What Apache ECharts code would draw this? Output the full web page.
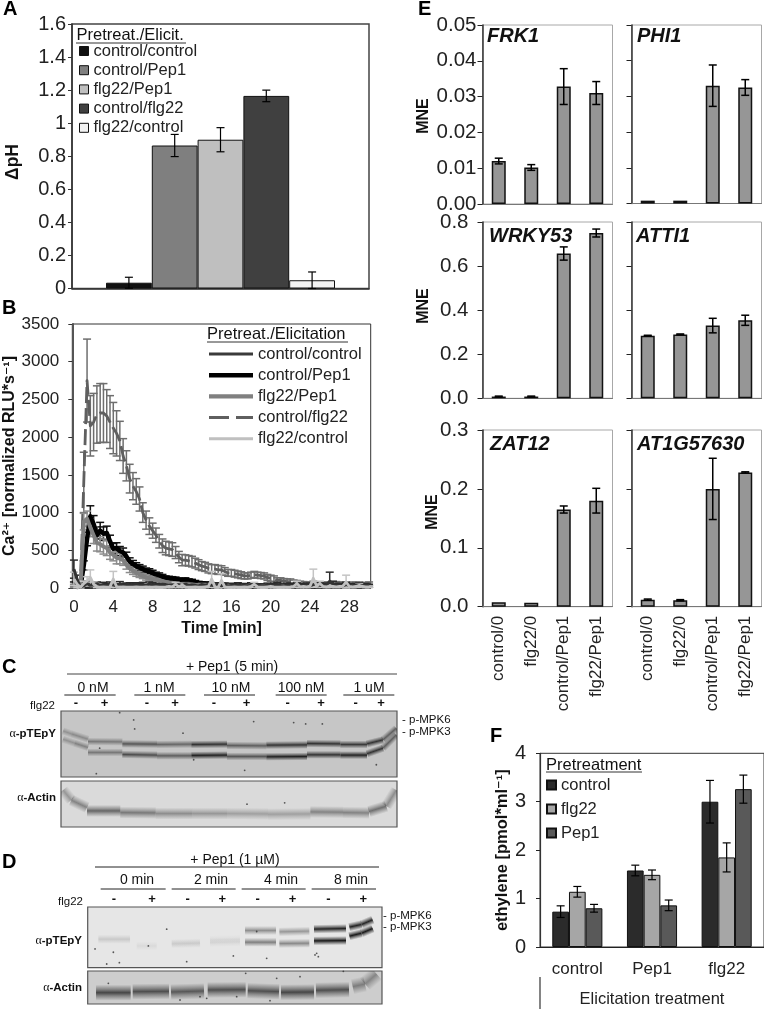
<!DOCTYPE html>
<html>
<head>
<meta charset="utf-8">
<style>html,body{margin:0;padding:0;background:#fff}#c{width:764px;height:1009px}</style>
<script src="https://cdn.jsdelivr.net/npm/echarts@6/dist/echarts.min.js"></script>
</head>
<body>
<div id="c"></div>
<script>
// ---------- Panel A ----------
const aNames = ['control/control','control/Pep1','flg22/Pep1','control/flg22','flg22/control'];
const aValues = [0.035,0.865,0.9,1.165,0.05];
const aErrors = [0.033,0.067,0.073,0.035,0.05];
const aColors = ['#111111','#7f7f7f','#bfbfbf','#404040','#f2f2f2'];

// ---------- Panel B (readings every 20 s) ----------
const ctrlCtrl = [
 250,110,10,30,60,35,40,55,30,45,
 35,50,40,30,55,35,45,40,30,50,
 35,45,30,55,40,35,30,50,45,35,
 40,30,45,35,50,30,40,35,25,45,
 30,40,35,30,45,30,40,25,35,30,
 45,30,35,25,40,30,35,30,25,40,
 30,35,45,30,25,40,35,30,45,30,
 35,40,30,45,55,35,30,40,90,50,
 35,40,30,45,35,30,40,35,30,35,30];
const ctrlCtrlErr = [
 120,60,10,20,30,25,30,25,20,30,
 25,30,20,25,30,25,20,30,25,20,
 25,30,20,25,30,20,25,30,20,25,
 20,30,25,20,25,30,20,25,20,25,
 20,25,20,30,25,20,25,20,25,20,
 25,20,25,20,30,25,20,25,20,25,
 20,25,30,20,25,20,30,25,20,25,
 20,25,30,20,25,30,20,25,120,40,
 25,20,25,30,20,25,20,30,20,25,20];
const ctrlPep1 = [
 50,30,20,300,650,950,850,700,760,720,
 730,620,520,530,490,470,420,350,320,290,
 270,250,230,220,200,180,170,150,135,130,
 125,120,110,100,110,100,95,80,70,65,
 60,60,55,50,50,45,45,40,40,40,
 35,35,35,30,30,35,30,30,30,25,
 30,25,25,30,25,25,20,25,25,20,
 25,20,25,20,20,25,20,20,25,20,
 20,25,20,20,25,20,20,20,25,20,20];
const ctrlPep1Err = [
 30,20,15,60,90,140,110,110,110,90,
 90,80,70,70,60,60,55,50,45,45,
 40,40,35,35,35,30,30,30,25,25,
 25,25,25,20,25,20,20,20,15,15,
 15,15,15,15,15,10,10,10,10,10,
 10,10,10,10,10,10,10,10,10,10,
 10,10,10,10,10,10,10,10,10,10,
 10,10,10,10,10,10,10,10,10,10,
 10,10,10,10,10,10,10,10,10,10,10];
const flgPep1 = [
 30,10,20,880,920,800,700,600,580,550,
 530,470,440,400,390,370,310,260,230,200,
 180,160,140,130,120,105,100,90,80,70,
 65,60,55,50,45,50,45,40,40,35,
 35,30,35,30,30,30,25,30,25,25,
 30,25,25,20,25,25,20,25,20,25,
 20,20,25,20,25,20,20,25,20,20,
 25,20,20,25,20,20,25,20,20,20,
 25,20,20,20,25,20,20,20,25,20,20];
const flgPep1Err = [
 20,10,15,110,100,120,110,110,100,100,
 100,90,80,80,70,70,60,55,50,45,
 40,35,35,30,30,25,25,25,20,20,
 20,15,15,15,15,15,15,10,10,10,
 10,10,10,10,10,10,10,10,10,10,
 10,10,10,10,10,10,10,10,10,10,
 10,10,10,10,10,10,10,10,10,10,
 10,10,10,10,10,10,10,10,10,10,
 10,10,10,10,10,10,10,10,10,10,10];
const ctrlFlg22 = [
 20,10,50,1400,2750,2150,2200,2300,2320,2320,
 2280,2200,2120,2050,1950,1750,1620,1450,1350,1280,
 1180,1000,900,820,760,700,620,560,530,520,
 510,470,410,370,370,360,350,330,310,290,
 280,260,250,250,240,240,220,200,200,190,
 180,170,160,160,170,180,170,165,160,140,
 130,120,100,100,90,85,85,75,70,60,
 55,50,50,60,50,45,45,50,40,50,
 55,45,50,45,40,50,45,50,40,45,50];
const ctrlFlg22Err = [
 15,10,30,400,550,400,380,380,390,390,
 350,350,340,300,260,230,200,190,180,170,
 160,130,120,110,100,95,90,90,90,90,
 90,80,75,75,70,70,70,65,65,60,
 60,60,60,60,60,55,50,45,45,45,
 45,45,40,40,40,40,40,40,40,40,
 40,40,35,35,35,35,35,30,30,30,
 30,30,30,30,30,30,30,30,30,30,
 30,30,30,30,30,30,30,30,30,30,30];
const flgCtrl = [
 120,50,10,60,90,140,50,20,10,15,
 10,15,120,20,10,15,10,12,10,15,
 10,12,15,10,12,15,10,12,15,20,
 15,50,15,40,15,12,10,15,12,10,
 15,20,120,15,10,100,15,12,10,15,
 12,10,15,12,20,50,15,12,10,15,
 20,15,12,10,15,12,15,20,60,15,
 20,15,25,130,30,60,20,15,25,20,
 15,20,25,80,20,15,20,35,20,15,15];
const flgCtrlErr = [
 90,40,10,30,60,100,30,15,10,10,
 10,10,100,15,10,10,10,10,10,10,
 10,10,10,10,10,10,10,10,10,10,
 10,25,10,20,10,10,10,10,10,10,
 10,10,100,10,10,90,10,10,10,10,
 10,10,10,10,10,25,10,10,10,10,
 10,10,10,10,10,10,10,10,30,10,
 10,10,15,120,15,30,10,10,15,10,
 10,10,15,90,10,10,10,20,10,10,10];

// ---------- Panel E ----------
const eCategories = ['control/0','flg22/0','control/Pep1','flg22/Pep1'];
const frk1 = [0.012,0.0102,0.0328,0.031];
const frk1Err = [0.0008,0.0008,0.005,0.0032];
const phi1 = [0.0008,0.0008,0.033,0.0325];
const phi1Err = [0,0,0.0058,0.0022];
const wrky53 = [0.008,0.008,0.657,0.75];
const wrky53Err = [0.002,0.002,0.03,0.018];
const atti1 = [0.284,0.29,0.33,0.354];
const atti1Err = [0.002,0.002,0.033,0.023];
const zat12 = [0.0075,0.0065,0.165,0.18];
const zat12Err = [0,0,0.006,0.021];
const at1g = [0.012,0.011,0.2,0.228];
const at1gErr = [0.001,0.001,0.052,0.001];

// ---------- Panel F ----------
const fCategories = ['control','Pep1','flg22'];
const fControl = [0.73,1.58,3.0];
const fControlErr = [0.12,0.11,0.44];
const fFlg22 = [1.14,1.49,1.85];
const fFlg22Err = [0.11,0.1,0.3];
const fPep1 = [0.8,0.86,3.26];
const fPep1Err = [0.08,0.11,0.29];

// ---------- Blots: [from, to, migrationFrom, migrationTo, intensity] in gel units ----------
const cPhosUpper = [[190,215,243,252,.3],[215,265,252,268,.35],[265,368,275,276,.45],[368,472,282,283,.65],[472,575,284,283,.55],
 [575,682,284,283,.85],[682,800,287,288,.6],[800,922,286,285,.85],[922,1022,281,282,.85],[1022,1102,284,284,.8],[1102,1150,282,270,.85],[1150,1190,270,235,.6]];
const cPhosLower = [[190,225,268,280,.3],[225,265,280,293,.4],[265,368,308,308,.45],[368,472,314,316,.7],[472,575,318,318,.6],
 [575,682,317,316,.95],[682,800,320,320,.65],[800,922,321,320,.95],[922,1022,315,315,.85],[1022,1102,316,316,.95],[1102,1150,312,295,.85],[1150,1190,295,255,.6]];
const cActin = [[190,215,420,450,.35],[215,262,450,472,.45],[262,362,482,482,.6],[362,468,487,488,.5],[468,578,490,490,.4],
 [578,682,490,490,.35],[682,805,490,491,.3],[805,932,492,491,.3],[932,1030,485,486,.45],[1030,1108,487,488,.45],[1108,1160,484,468,.55],[1160,1190,468,420,.4]];
const dPhosUpper = [[515,600,310,308,.04],[630,720,300,298,.05],[735,828,272,272,.42],[838,928,276,274,.38],[942,1038,268,266,.95],[1048,1085,262,254,.95],[1085,1118,254,240,.95]];
const dPhosLower = [[295,390,298,298,.14],[410,470,318,318,.06],[515,600,312,310,.1],[630,720,308,306,.07],[735,828,307,307,.5],[838,928,311,310,.45],[942,1038,303,302,1],[1048,1085,289,280,1],[1085,1118,280,266,1]];
const dActin = [[288,392,458,458,.75],[398,507,455,454,.7],[513,612,456,453,.65],[623,737,450,449,.7],[743,837,452,455,.7],[843,942,457,456,.75],[948,1047,451,449,.7],[1058,1095,440,432,.45],[1095,1130,432,402,.4]];
const cPhosSpecks = [[360,188],[402,210],[405,237],[550,250],[290,372],[300,295],[762,215],[882,218],[918,222],[968,222],[582,330],[735,362],[1130,345]];
const cActinSpecks = [[742,462],[855,458]];
const dPhosSpecks = [[285,327],[340,337],[320,372],[358,368],[500,268],[800,355],[945,345],[955,350],[950,340],[560,365],[700,348],[770,275],[445,318]];
const dActinSpecks = [[325,430],[737,400],[830,415],[900,410],[540,480],[620,475],[710,470],[810,482],[600,470],[1030,394]];

const FONT = "'Liberation Sans','DejaVu Sans',sans-serif";
const grids = [], xAxes = [], yAxes = [], series = [], graphics = [];

function addGrid(rect, x, y) {
  grids.push(Object.assign({containLabel:false, show:true, backgroundColor:'transparent'}, rect));
  const i = grids.length - 1;
  xAxes.push(Object.assign({gridIndex:i}, x));
  yAxes.push(Object.assign({gridIndex:i}, y));
  return i;
}
function errorSeries(g, values, errs, opt) {
  opt = opt || {};
  const off = opt.offset || 0, cap = opt.cap || 4;
  series.push({
    type:'custom', name:opt.name || ('error bars '+series.length), xAxisIndex:g, yAxisIndex:g, z:opt.z || 5, silent:true,
    data: values.map((v,i)=>[i,v,errs[i]]), encode:{x:0,y:1}, clip:false,
    renderItem(p, api){
      const i=api.value(0), v=api.value(1), e=api.value(2);
      if(!e) return null;
      const top=api.coord([i,v+e]), bot=api.coord([i,Math.max(0,v-e)]);
      const x=top[0]+off;
      const st={stroke:opt.color||'#000',lineWidth:opt.width||1,fill:null};
      return {type:'group',children:[
        {type:'line',shape:{x1:x,y1:top[1],x2:x,y2:bot[1]},style:st},
        {type:'line',shape:{x1:x-cap,y1:top[1],x2:x+cap,y2:top[1]},style:st},
        {type:'line',shape:{x1:x-cap,y1:bot[1],x2:x+cap,y2:bot[1]},style:st}
      ]};
    }
  });
}
function T(text,x,y,size,o){
  graphics.push({type:'text',silent:true,z:50,style:Object.assign({text,x,y,fontFamily:FONT,fontSize:size,fill:'#111',align:'left',verticalAlign:'middle'},o||{})});
}
function R(text,x,y,size){
  graphics.push({type:'text',silent:true,z:50,x,y,rotation:Math.PI/2,
    style:{text,fontFamily:FONT,fontSize:size,fontWeight:'bold',fill:'#111',align:'center',verticalAlign:'middle'}});
}
function L(x1,y1,x2,y2,color,w){
  graphics.push({type:'line',silent:true,z:50,shape:{x1,y1,x2,y2},style:{stroke:color||'#222',lineWidth:w||1}});
}

// ---------- A ----------
const axDark = {lineStyle:{color:'#333',width:1.5}};
const gA = addGrid({left:72,top:24,width:297,height:264.5,borderColor:'#444',borderWidth:1.5},
 {type:'category',data:[''],axisLine:axDark,axisTick:{length:4,lineStyle:{color:'#333'}},axisLabel:{show:false}},
 {type:'value',min:0,max:1.6,interval:0.2,splitLine:{show:false},axisLine:{show:true,lineStyle:{color:'#333',width:1.5}},axisTick:{show:true,length:4,lineStyle:{color:'#333'}},
  axisLabel:{fontFamily:FONT,fontSize:20,color:'#222',margin:6}});
R('ΔpH',13,162,17.5);
aNames.forEach((n,i)=>{
  series.push({type:'bar',name:n,xAxisIndex:gA,yAxisIndex:gA,data:[aValues[i]],barWidth:45.8,barGap:0,
   itemStyle:{color:aColors[i],borderColor:'#111',borderWidth:1}});
  errorSeries(gA,[aValues[i]],[aErrors[i]],{offset:(i-2)*45.8,cap:4,width:1.2,color:'#000'});
});

// ---------- B ----------
const timeCats = ctrlCtrl.map((_,i)=>String(Math.round(i/3)));
const gB = addGrid({left:72.3,top:324,width:298.4,height:264,borderColor:'#333',borderWidth:1},
 {type:'category',data:timeCats,axisLine:{lineStyle:{color:'#333',width:1}},axisTick:{interval:0,length:4,lineStyle:{color:'#222',width:1}},
  axisLabel:{interval:11,fontFamily:FONT,fontSize:17,color:'#222',margin:11},
  name:'Time [min]',nameLocation:'middle',nameGap:33,nameTextStyle:{fontFamily:FONT,fontSize:16,fontWeight:'bold',color:'#111'}},
 {type:'value',min:0,max:3500,interval:500,splitLine:{show:false},axisLine:{show:true,lineStyle:{color:'#555',width:2}},axisTick:{show:true,length:4,lineStyle:{color:'#333'}},
  axisLabel:{formatter:v=>String(v),fontFamily:FONT,fontSize:17,color:'#222',margin:13},name:'Ca²⁺ [normalized RLU*s⁻¹]',nameLocation:'middle',nameGap:55,nameTextStyle:{fontFamily:FONT,fontSize:16,fontWeight:'bold',color:'#111'}});
const bSeries = [
 {n:'control/flg22',d:ctrlFlg22,e:ctrlFlg22Err,c:'#5f5f5f',w:2.8,ec:'#6e6e6e',dash:[16,5]},
 {n:'control/Pep1',d:ctrlPep1,e:ctrlPep1Err,c:'#000',w:4.5,ec:'#111'},
 {n:'flg22/Pep1',d:flgPep1,e:flgPep1Err,c:'#808080',w:4,ec:'#8c8c8c'},
 {n:'control/control',d:ctrlCtrl,e:ctrlCtrlErr,c:'#333333',w:3,ec:'#2b2b2b'},
 {n:'flg22/control',d:flgCtrl,e:flgCtrlErr,c:'#c0c0c0',w:2.8,ec:'#c4c4c4'}
];
bSeries.forEach((s,i)=>{
  errorSeries(gB,s.d,s.e,{cap:4,width:1.5,color:s.ec,z:3+i});
  series.push({type:'line',name:s.n,xAxisIndex:gB,yAxisIndex:gB,data:s.d,showSymbol:false,z:4+i,
    lineStyle:{color:s.c,width:s.w,type:s.dash||'solid',join:'round'},clip:false});
});

// ---------- E ----------
function eGrid(left,top,height,max,interval,digits,vals,errs,showY,showX,margin){
  const g = addGrid({left,top,width:130,height,borderColor:'#a8a8a8',borderWidth:1},
   {type:'category',data:eCategories,axisLine:{lineStyle:{color:'#777',width:1}},axisTick:{length:4,lineStyle:{color:'#666'}},
    axisLabel:{show:showX,rotate:90,interval:0,fontFamily:FONT,fontSize:17,color:'#222',margin:9}},
   {type:'value',min:0,max,interval,splitLine:{show:false},axisLine:{show:true,lineStyle:{color:'#333',width:1.5}},axisTick:{show:true,length:5,lineStyle:{color:'#222'}},
    axisLabel:{show:showY,formatter:v=>v.toFixed(digits),fontFamily:FONT,fontSize:20.5,color:'#222',margin:margin||6}});
  series.push({type:'bar',name:'expression '+series.length,xAxisIndex:g,yAxisIndex:g,data:vals,barWidth:14,itemStyle:{color:'#969696',borderColor:'#111',borderWidth:1.5}});
  errorSeries(g,vals,errs,{cap:4,width:1.5,color:'#000'});
}
eGrid(482.5,25,179,0.05,0.01,2,frk1,frk1Err,true,false,6);
eGrid(631.5,25,178.5,0.05,0.01,2,phi1,phi1Err,false,false);
eGrid(482.5,222,176.3,0.8,0.2,1,wrky53,wrky53Err,true,false,14);
eGrid(631.5,222,176.3,0.8,0.2,1,atti1,atti1Err,false,false);
eGrid(482.5,430,176.7,0.3,0.1,1,zat12,zat12Err,true,true,14);
eGrid(631.5,430,176.7,0.3,0.1,1,at1g,at1gErr,false,true);

// ---------- F ----------
const gF = addGrid({left:540,top:753.3,width:224.5,height:193.7,borderColor:'#333',borderWidth:1},
 {type:'category',data:fCategories,axisLine:{lineStyle:{color:'#222',width:1}},axisTick:{length:30,lineStyle:{color:'#333',width:1.2}},
  axisLabel:{fontFamily:FONT,fontSize:17,color:'#222',margin:14},
  name:'Elicitation treatment',nameLocation:'middle',nameGap:44,nameTextStyle:{fontFamily:FONT,fontSize:16.5,color:'#222'}},
 {type:'value',min:0,max:4,interval:1,splitLine:{show:false},axisLine:{show:true,lineStyle:{color:'#333',width:1.2}},axisTick:{show:true,length:4,lineStyle:{color:'#222'}},
  axisLabel:{fontFamily:FONT,fontSize:20,color:'#222',margin:14},name:'ethylene [pmol*ml⁻¹]',nameLocation:'middle',nameGap:20,nameTextStyle:{fontFamily:FONT,fontSize:16.5,fontWeight:'bold',color:'#111'}});
[['control',fControl,fControlErr,'#2b2b2b'],['flg22',fFlg22,fFlg22Err,'#a6a6a6'],['Pep1',fPep1,fPep1Err,'#595959']].forEach((s,i)=>{
  series.push({type:'bar',name:s[0],xAxisIndex:gF,yAxisIndex:gF,data:s[1],barWidth:16.7,barGap:0,itemStyle:{color:s[3],borderColor:'#111',borderWidth:1}});
  errorSeries(gF,s[1],s[2],{offset:(i-1)*16.7,cap:4,width:1.2,color:'#000'});
});
L(540,977,540,1009,'#333',1.2);

// ---------- Blots ----------
function blot(rect,xr,yr,bg,bands,specks,half){
  const g = addGrid(Object.assign({borderColor:'#555',borderWidth:1.2},rect,{backgroundColor:bg}),
    {type:'value',min:xr[0],max:xr[1],show:false,splitLine:{show:false}},
    {type:'value',min:yr[0],max:yr[1],inverse:true,show:false,splitLine:{show:false}});
  series.push({type:'custom',name:'blot bands '+series.length,xAxisIndex:g,yAxisIndex:g,silent:true,clip:true,z:2,data:bands,
    encode:{x:[0,1],y:[2,3]},
    renderItem(p,api){
      const a=api.coord([api.value(0),api.value(2)]), b=api.coord([api.value(1),api.value(3)]);
      const k=api.value(4), c='25,25,25';
      const dx=b[0]-a[0], dy=b[1]-a[1], len=Math.sqrt(dx*dx+dy*dy)||1;
      const nx=-dy/len*half, ny=dx/len*half, mx=(a[0]+b[0])/2, my=(a[1]+b[1])/2;
      return {type:'polygon',shape:{points:[[a[0]-nx,a[1]-ny],[b[0]-nx,b[1]-ny],[b[0]+nx,b[1]+ny],[a[0]+nx,a[1]+ny]]},
        style:{stroke:null,fill:new echarts.graphic.LinearGradient(mx-nx,my-ny,mx+nx,my+ny,[
          {offset:0,color:'rgba('+c+',0)'},{offset:.3,color:'rgba('+c+','+k*0.55+')'},
          {offset:.5,color:'rgba('+c+','+k+')'},{offset:.7,color:'rgba('+c+','+k*0.55+')'},{offset:1,color:'rgba('+c+',0)'}],true)}};
    }});
  series.push({type:'scatter',name:'blot specks '+series.length,xAxisIndex:g,yAxisIndex:g,silent:true,data:specks,symbolSize:1.8,itemStyle:{color:'#333'},z:3});
}
blot({left:61,top:711,width:336,height:66},[184,1192],[183,382],'#c6c6c6',cPhosUpper.concat(cPhosLower),cPhosSpecks,4);
blot({left:61,top:781,width:336,height:46},[184,1192],[393,530],'#dadada',cActin,cActinSpecks,6);
blot({left:87.7,top:907,width:294.3,height:60.7},[263,1146],[202,383],'#e6e6e6',dPhosUpper.concat(dPhosLower),dPhosSpecks,4.5);
blot({left:87.7,top:971,width:294.3,height:33},[263,1146],[393,492],'#cdcdcd',dActin,dActinSpecks,8);

// Blot annotations
T('+ Pep1 (5 min)',232,667,14,{align:'center'});
L(67,674,397,674,'#444',1);
[['0 nM',93],['1 nM',159],['10 nM',231],['100 nM',301],['1 uM',369]].forEach(d=>T(d[0],d[1],688,14,{align:'center'}));
[[193,347],[403,556],[612,765],[827,980],[1030,1183]].forEach(s=>L(s[0]/3,695,s[1]/3,695,'#222',1));
['-','+','-','+','-','+','-','+','-','+'].forEach((s,i)=>T(s,[228,314,441,525,642,740,863,963,1067,1143][i]/3,703,13,{align:'center',fontWeight:'bold'}));
T('flg22',55,706,11.5,{align:'right'});
const alpha = ()=>({align:'right',rich:{a:{fontFamily:"'Liberation Serif',serif",fontSize:12,fill:'#111'},b:{fontFamily:FONT,fontWeight:'bold',fontSize:11.5,fill:'#111'}}});
T('{a|α}{b|-pTEpY}',56,734,12,alpha());
T('{a|α}{b|-Actin}',56,798,12,alpha());
T('- p-MPK6',402,720,11.5);
T('- p-MPK3',402,732,11.5);

T('+ Pep1 (1 µM)',235,860,14,{align:'center'});
L(95,867,379,867,'#222',1);
[['0 min',137],['2 min',211],['4 min',281],['8 min',351]].forEach(d=>T(d[0],d[1],880,14,{align:'center'}));
[[302,497],[515,707],[725,917],[935,1128]].forEach(s=>L(s[0]/3,889,s[1]/3,889,'#222',1));
['-','+','-','+','-','+','-','+'].forEach((s,i)=>T(s,[342,456,563,667,773,878,985,1090][i]/3,899,13,{align:'center',fontWeight:'bold'}));
T('flg22',83,902,11.5,{align:'right'});
T('{a|α}{b|-pTEpY}',82,941,12,alpha());
T('{a|α}{b|-Actin}',82,988,12,alpha());
T('- p-MPK6',383,916,11.5);
T('- p-MPK3',383,927,11.5);

// Panel letters
[['A',3,9],['B',2,308],['C',2,667],['D',2,862],['E',418,9],['F',490,736]].forEach(l=>T(l[0],l[1],l[2],20,{fontWeight:'bold',fill:'#000'}));

// Gene names and shared axis titles
[['FRK1',487,36],['PHI1',637,36],['WRKY53',489,236],['ATTI1',636,236],['ZAT12',490,444],['AT1G57630',637,444]]
 .forEach(g=>T(g[0],g[1],g[2],20,{fontWeight:'bold',fontStyle:'italic',fill:'#111'}));
[[424,116],[424,306],[433,512]].forEach(m=>R('MNE',m[0],m[1],16));

// Legend titles
T('Pretreat./Elicit.',76.5,35,16.5);L(76,43,186,43,'#333',1);
T('Pretreat./Elicitation',207,334,16.5);L(207,342,348,342,'#333',1);
T('Pretreatment',546,765,16.5);L(546,772,642,772,'#333',1);

// Legends
const lineIcon = 'path://M0 0L44 0L44 0Z M0 3.5H44V6.5H0Z M0 10L44 10L44 10Z';
const thickIcon = 'path://M0 0L44 0L44 0Z M0 2.8H44V7.2H0Z M0 10L44 10L44 10Z';
const dashIcon = 'path://M0 0L44 0L44 0Z M0 3.5H20V6.5H0Z M27 3.5H44V6.5H27Z M0 10L44 10L44 10Z';
const legendText = {fontFamily:FONT,fontSize:16.5,color:'#222'};
const legends = [
 {left:79,top:42.5,orient:'vertical',padding:0,itemGap:2.2,itemWidth:9,itemHeight:9,selectedMode:false,textStyle:legendText,
  data:aNames.map((n,i)=>({name:n,icon:'rect',itemStyle:{color:aColors[i],borderColor:'#111',borderWidth:1}}))},
 {left:209,top:345.5,orient:'vertical',padding:0,itemGap:4.2,itemWidth:44,itemHeight:10,symbolKeepAspect:false,selectedMode:false,textStyle:legendText,
  data:[
   {name:'control/control',icon:lineIcon,itemStyle:{color:'#3a3a3a',borderWidth:0}},
   {name:'control/Pep1',icon:thickIcon,itemStyle:{color:'#000',borderWidth:0}},
   {name:'flg22/Pep1',icon:thickIcon,itemStyle:{color:'#808080',borderWidth:0}},
   {name:'control/flg22',icon:dashIcon,itemStyle:{color:'#5f5f5f',borderWidth:0}},
   {name:'flg22/control',icon:lineIcon,itemStyle:{color:'#c0c0c0',borderWidth:0}}]},
 {left:546,top:776.5,orient:'vertical',padding:0,itemGap:7,itemWidth:9,itemHeight:9,selectedMode:false,textStyle:legendText,
  data:[{name:'control',icon:'rect'},{name:'flg22',icon:'rect'},{name:'Pep1',icon:'rect'}]}
];

const chart = echarts.init(document.getElementById('c'),null,{renderer:'canvas',width:764,height:1009});
chart.setOption({animation:false,backgroundColor:'#fff',textStyle:{fontFamily:FONT},
  grid:grids,xAxis:xAxes,yAxis:yAxes,series,graphic:{elements:graphics},legend:legends});
</script>
</body>
</html>
